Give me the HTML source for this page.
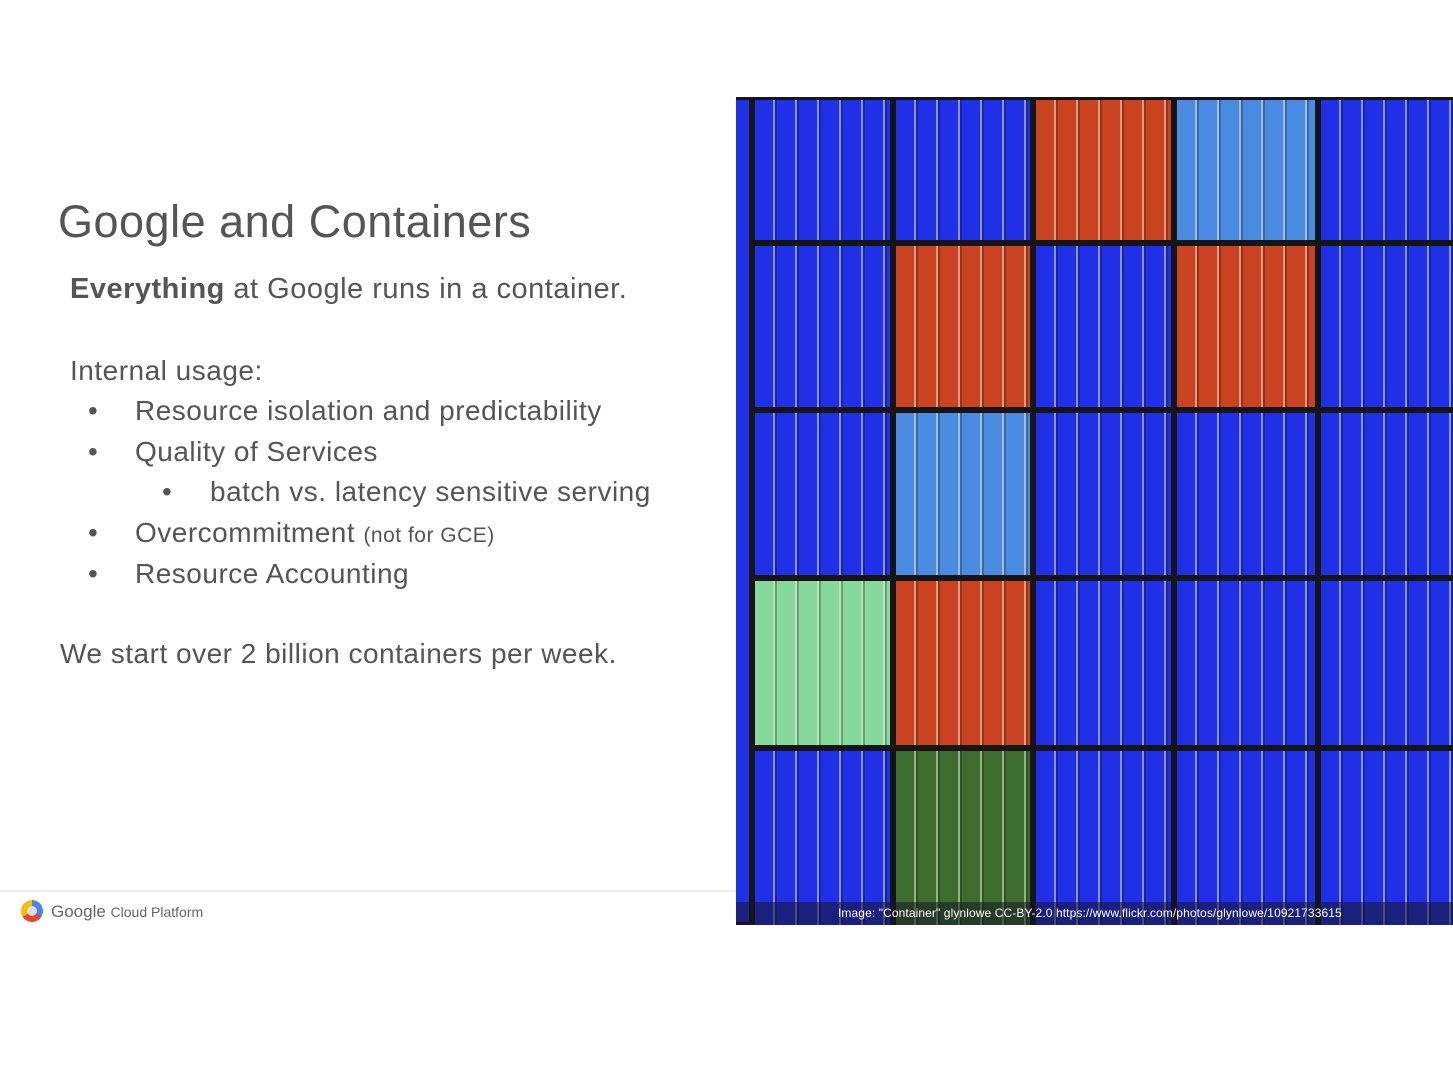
<!DOCTYPE html>
<html><head><meta charset="utf-8"><style>
body{margin:0;width:1453px;height:1065px;background:#fff;position:relative;overflow:hidden;font-family:"Liberation Sans",sans-serif;color:#555}
.t{position:absolute;white-space:nowrap;letter-spacing:0.5px}
.img{position:absolute;left:736px;top:97px;width:717px;height:828px;background:#111;overflow:hidden}
.c{position:absolute;box-sizing:border-box;border:3px solid #151515;
background-image:repeating-linear-gradient(90deg,rgba(0,0,0,0) 0 18px,rgba(230,230,200,.55) 18px 20px,rgba(0,0,0,.25) 20px 22px);}
.b{background-color:#1f30e6}.r{background-color:#c94320}.l{background-color:#4a8ae0}.g{background-color:#86d89c}.d{background-color:#3d6d2e}
</style></head><body>
<div class="t" style="left:58px;top:196px;font-size:45px;color:#555">Google and Containers</div>
<div class="t" style="left:70px;top:273px;font-size:29px"><b>Everything</b> at Google runs in a container.</div>
<div class="t" style="left:70px;top:355px;font-size:28px">Internal usage:</div>
<div class="t" style="left:88px;top:395px;font-size:28px">•</div><div class="t" style="left:135px;top:395px;font-size:28px">Resource isolation and predictability</div>
<div class="t" style="left:88px;top:436px;font-size:28px">•</div><div class="t" style="left:135px;top:436px;font-size:28px">Quality of Services</div>
<div class="t" style="left:162px;top:476px;font-size:28px">•</div><div class="t" style="left:210px;top:476px;font-size:28px">batch vs. latency sensitive serving</div>
<div class="t" style="left:88px;top:517px;font-size:28px">•</div><div class="t" style="left:135px;top:517px;font-size:28px">Overcommitment <span style="font-size:21px">(not for GCE)</span></div>
<div class="t" style="left:88px;top:558px;font-size:28px">•</div><div class="t" style="left:135px;top:558px;font-size:28px">Resource Accounting</div>
<div class="t" style="left:60px;top:638px;font-size:28px">We start over 2 billion containers per week.</div>
<div style="position:absolute;left:0;top:890px;width:736px;height:2px;background:#eee"></div>
<div style="position:absolute;left:21px;top:900px;width:22px;height:22px;border-radius:50%;background:conic-gradient(#4285f4 0 33%,#ea4335 0 66%,#fbbc05 0)"></div>
<div style="position:absolute;left:27px;top:906px;width:10px;height:10px;border-radius:50%;background:#ddd"></div>
<div class="t" style="left:51px;top:902px;font-size:17px;color:#666;letter-spacing:0">Google <span style="font-size:14px">Cloud Platform</span></div>
<div class="img">
<div class="c b" style="left:-4px;top:0;width:20px;height:828px"></div>
<div class="c b" style="left:16px;top:0;width:141px;height:146px"></div>
<div class="c b" style="left:157px;top:0;width:140px;height:146px"></div>
<div class="c r" style="left:297px;top:0;width:141px;height:146px"></div>
<div class="c l" style="left:438px;top:0;width:144px;height:146px"></div>
<div class="c b" style="left:582px;top:0;width:140px;height:146px"></div>
<div class="c b" style="left:16px;top:146px;width:141px;height:167px"></div>
<div class="c r" style="left:157px;top:146px;width:140px;height:167px"></div>
<div class="c b" style="left:297px;top:146px;width:141px;height:167px"></div>
<div class="c r" style="left:438px;top:146px;width:144px;height:167px"></div>
<div class="c b" style="left:582px;top:146px;width:140px;height:167px"></div>
<div class="c b" style="left:16px;top:313px;width:141px;height:168px"></div>
<div class="c l" style="left:157px;top:313px;width:140px;height:168px"></div>
<div class="c b" style="left:297px;top:313px;width:141px;height:168px"></div>
<div class="c b" style="left:438px;top:313px;width:144px;height:168px"></div>
<div class="c b" style="left:582px;top:313px;width:140px;height:168px"></div>
<div class="c g" style="left:16px;top:481px;width:141px;height:170px"></div>
<div class="c r" style="left:157px;top:481px;width:140px;height:170px"></div>
<div class="c b" style="left:297px;top:481px;width:141px;height:170px"></div>
<div class="c b" style="left:438px;top:481px;width:144px;height:170px"></div>
<div class="c b" style="left:582px;top:481px;width:140px;height:170px"></div>
<div class="c b" style="left:16px;top:651px;width:141px;height:180px"></div>
<div class="c d" style="left:157px;top:651px;width:140px;height:180px"></div>
<div class="c b" style="left:297px;top:651px;width:141px;height:180px"></div>
<div class="c b" style="left:438px;top:651px;width:144px;height:180px"></div>
<div class="c b" style="left:582px;top:651px;width:140px;height:180px"></div>
<div style="position:absolute;left:0;top:805px;width:717px;height:23px;background:rgba(20,20,40,.55)"></div>
<div class="t" style="left:102px;top:809px;font-size:12px;color:#fff;letter-spacing:0.1px">Image: "Container" glynlowe CC-BY-2.0 https://www.flickr.com/photos/glynlowe/10921733615</div>
</div>
</body></html>
